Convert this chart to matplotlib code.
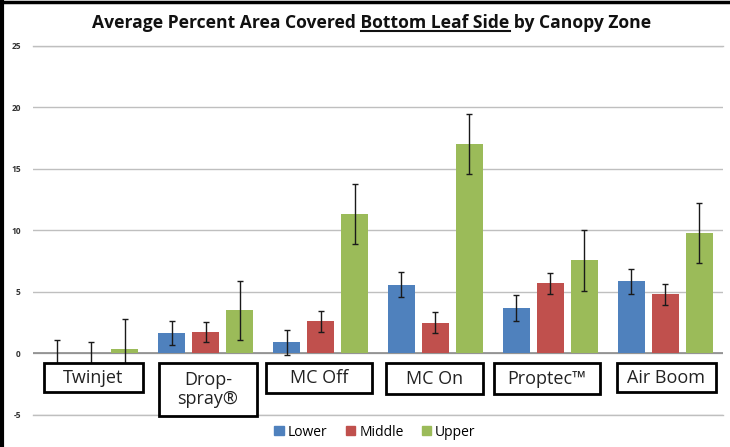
import matplotlib
matplotlib.use('Agg')
import matplotlib.pyplot as plt
import matplotlib.patches as mpatches
import numpy as np

# data
sprayers = ['Twinjet', 'Drop-\nspray®', 'MC Off', 'MC On', 'Proptec™', 'Air Boom']
zones = ['Lower', 'Middle', 'Upper']
lower = [0.05, 1.65, 0.9, 5.6, 3.7, 5.85]
middle = [0.05, 1.75, 2.6, 2.5, 5.7, 4.8]
upper = [0.4, 3.5, 11.3, 17.05, 7.55, 9.8]
lower_err = [1.05, 1.0, 1.0, 1.05, 1.05, 1.02]
middle_err = [0.9, 0.82, 0.83, 0.83, 0.86, 0.84]
upper_err = [2.42, 2.4, 2.43, 2.44, 2.44, 2.46]
y_ticks = [-5, 0, 5, 10, 15, 20, 25]

colors = ['#4F81BD', '#C0504D', '#9BBB59']
# label boxes (left, right, top, bottom) in data units
boxes = [(-0.41, 0.455, -0.79, -3.15), (0.595, 1.447, -0.79, -5.1),
         (1.525, 2.45, -0.79, -3.2), (2.57, 3.41, -0.79, -3.3),
         (3.51, 4.43, -0.79, -3.3), (4.58, 5.44, -0.79, -3.15)]

plt.rcParams['font.family'] = ['Open Sans', 'DejaVu Sans']

fig = plt.figure(figsize=(7.3, 4.47), dpi=100)
ax = fig.add_axes([0.0456, 0.0716, 0.9444, 0.8262])

x = np.arange(len(sprayers))
width = 0.232
step = 0.296
series = [lower, middle, upper]
errs = [lower_err, middle_err, upper_err]
for i in range(3):
    ax.bar(x + (i - 1) * step, series[i], width, color=colors[i], label=zones[i], zorder=2)
    ax.errorbar(x + (i - 1) * step, series[i], yerr=errs[i], fmt='none', ecolor='#1a1a1a',
                elinewidth=1.0, capsize=2.3, capthick=1.0, zorder=3)

ax.set_xlim(-0.5, len(sprayers) - 0.5)
ax.set_ylim(-5, 25)
ax.set_yticks(y_ticks)
ax.set_yticklabels([str(t) for t in y_ticks], fontsize=6, color='#333333', fontweight='bold')
ax.set_xticks([])
ax.tick_params(axis='y', length=0, pad=9)
for s in ax.spines.values():
    s.set_visible(False)
ax.grid(axis='y', color='#BFBFBF', linewidth=1.0, zorder=0)
ax.set_axisbelow(True)
ax.axhline(-5, color='#BFBFBF', linewidth=1.0, zorder=0, clip_on=False)
ax.axhline(25, color='#BFBFBF', linewidth=1.0, zorder=0, clip_on=False)
ax.axhline(0, color='#8C8C8C', linewidth=1.2, zorder=1)

# category labels in boxes
for name, (l, r, t, b) in zip(sprayers, boxes):
    rect = mpatches.Rectangle((l, b), r - l, t - b, facecolor='white', edgecolor='black',
                              linewidth=2.0, zorder=5, clip_on=False)
    ax.add_patch(rect)
    ax.text((l + r) / 2, (t + b) / 2, name, ha='center', va='center', fontsize=13,
            color='#222222', zorder=6, linespacing=1.05, clip_on=False)

# title with underlined part
part1 = 'Average Percent Area Covered '
part2 = 'Bottom Leaf Side'
part3 = ' by Canopy Zone'
full = part1 + part2 + part3
ty = 1 - 28 / 447.0
tsize = 12.6
title = fig.text(0.5096, ty, full, ha='center', va='baseline', fontsize=tsize,
                 fontweight='bold', color='#111111')
renderer = fig.canvas.get_renderer()
bb = title.get_window_extent(renderer)
tmp = fig.text(0, 0, part1 + part2, fontsize=tsize, fontweight='bold')
w12 = tmp.get_window_extent(renderer).width
tmp.remove()
tmp = fig.text(0, 0, part2, fontsize=tsize, fontweight='bold')
w2 = tmp.get_window_extent(renderer).width
tmp.remove()
fw = fig.bbox.width
fh = fig.bbox.height
ux1 = (bb.x0 + w12) / fw
ux0 = (bb.x0 + w12 - w2) / fw
uy = ty - 3.0 / fh
fig.add_artist(plt.Line2D([ux0, ux1], [uy, uy], color='#111111', linewidth=1.5))

# legend
handles = [mpatches.Patch(color=c, label=z) for c, z in zip(colors, zones)]
fig.legend(handles=handles, loc='center', bbox_to_anchor=(375 / 730.0, 1 - 432 / 447.0),
           ncol=3, frameon=False, fontsize=10, handlelength=0.68, handleheight=0.68,
           handletextpad=0.3, columnspacing=1.3)

# frame lines on the top and left edge
fig.add_artist(plt.Line2D([0, 1], [1 - 1.5 / fh, 1 - 1.5 / fh], color='black', linewidth=2.5))
fig.add_artist(plt.Line2D([2 / fw, 2 / fw], [0, 1], color='black', linewidth=3))

fig.savefig('out.png', dpi=100)
